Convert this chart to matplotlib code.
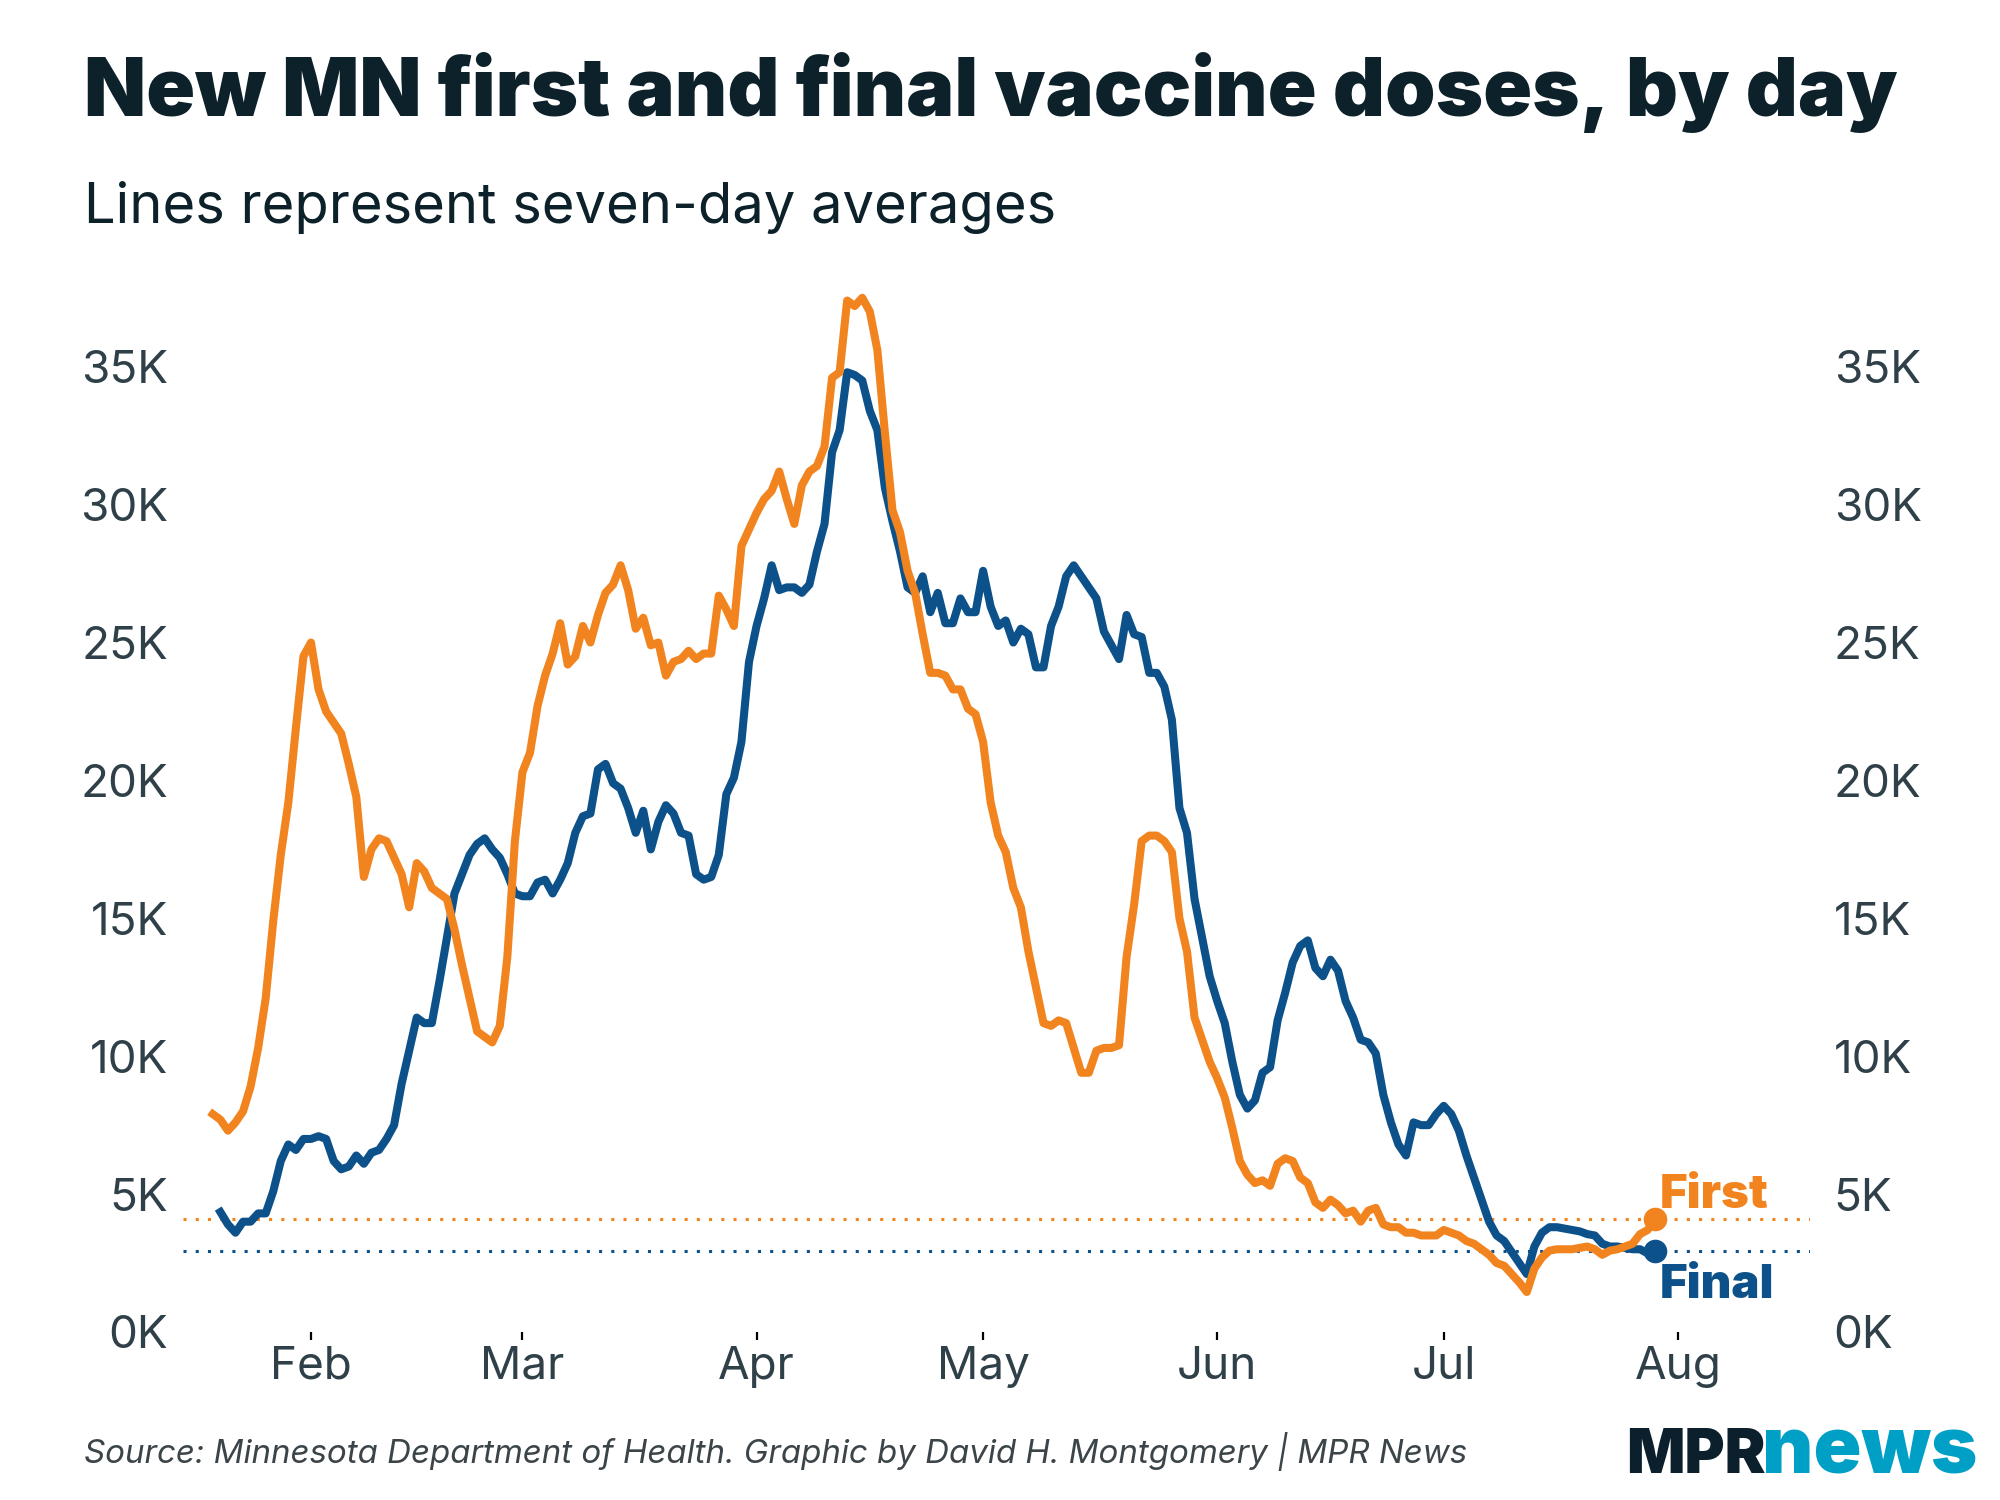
"""
plot.py

Seven-day averages of new first and final vaccine doses in Minnesota,
redrawn in the style of the MPR News graphic.
"""
import pandas as pd
import matplotlib
matplotlib.use("Agg")
import matplotlib.pyplot as plt
import matplotlib.dates as mdates
from matplotlib.ticker import FuncFormatter

FIRST_START = "2021-01-19"
FINAL_START = "2021-01-20"

# seven-day averages, thousands of doses per day
FIRST_JAN = [7.9, 7.7, 7.3, 7.6, 8.0, 8.9, 10.3, 12.1, 14.9, 17.3, 19.2, 21.9, 24.5]
FIRST_FEB = [25.0, 23.3, 22.5, 22.1, 21.7, 20.6, 19.4, 16.5, 17.5, 17.9, 17.8, 17.2, 16.6, 15.4,
             17.0, 16.7, 16.1, 15.9, 15.7, 14.6, 13.3, 12.1, 10.9, 10.7, 10.5, 11.1, 13.6, 17.8]
FIRST_MAR = [20.3, 21.0, 22.7, 23.8, 24.6, 25.7, 24.2, 24.5, 25.6, 25.0, 26.0, 26.8, 27.1, 27.8,
             26.9, 25.5, 25.9, 24.9, 25.0, 23.8, 24.3, 24.4, 24.7, 24.4, 24.6, 24.6, 26.7, 26.2,
             25.6, 28.5, 29.1]
FIRST_APR = [29.7, 30.2, 30.5, 31.2, 30.2, 29.3, 30.7, 31.2, 31.4, 32.1, 34.6, 34.8, 37.4, 37.2,
             37.5, 37.0, 35.6, 32.6, 29.8, 29.0, 27.6, 26.8, 25.3, 23.9, 23.9, 23.8, 23.3, 23.3,
             22.6, 22.4]
FIRST_MAY = [21.4, 19.2, 18.0, 17.4, 16.1, 15.4, 13.8, 12.5, 11.2, 11.1, 11.3, 11.2, 10.3, 9.4,
             9.4, 10.2, 10.3, 10.3, 10.4, 13.6, 15.5, 17.8, 18.0, 18.0, 17.8, 17.4, 15.0, 13.8,
             11.4, 10.6, 9.8]
FIRST_JUN = [9.2, 8.5, 7.4, 6.2, 5.7, 5.4, 5.5, 5.3, 6.1, 6.3, 6.2, 5.6, 5.4, 4.7, 4.5, 4.8,
             4.6, 4.3, 4.4, 4.0, 4.4, 4.5, 3.9, 3.8, 3.8, 3.6, 3.6, 3.5, 3.5, 3.5]
FIRST_JUL = [3.7, 3.6, 3.5, 3.3, 3.2, 3.0, 2.8, 2.5, 2.4, 2.1, 1.8, 1.45, 2.3, 2.7, 2.95, 3.0,
             3.0, 3.0, 3.05, 3.1, 3.0, 2.8, 2.95, 3.0, 3.1, 3.2, 3.55, 3.7, 4.1]

FINAL_JAN = [4.35, 3.9, 3.6, 4.0, 4.0, 4.3, 4.3, 5.1, 6.2, 6.8, 6.6, 7.0]
FINAL_FEB = [7.0, 7.1, 7.0, 6.2, 5.9, 6.0, 6.4, 6.1, 6.5, 6.6, 7.0, 7.5, 9.0, 10.2, 11.4, 11.2,
             11.2, 12.7, 14.3, 15.9, 16.6, 17.3, 17.7, 17.9, 17.5, 17.2, 16.6, 15.9]
FINAL_MAR = [15.8, 15.8, 16.3, 16.4, 15.9, 16.4, 17.0, 18.1, 18.7, 18.8, 20.4, 20.6, 19.9, 19.7,
             19.0, 18.1, 18.9, 17.5, 18.5, 19.1, 18.8, 18.1, 18.0, 16.6, 16.4, 16.5, 17.3, 19.5,
             20.1, 21.4, 24.3]
FINAL_APR = [25.6, 26.6, 27.8, 26.9, 27.0, 27.0, 26.8, 27.1, 28.3, 29.3, 31.9, 32.7, 34.8, 34.7,
             34.5, 33.4, 32.7, 30.6, 29.4, 28.3, 27.0, 26.8, 27.4, 26.1, 26.8, 25.7, 25.7, 26.6,
             26.1, 26.1]
FINAL_MAY = [27.6, 26.3, 25.6, 25.8, 25.0, 25.5, 25.3, 24.1, 24.1, 25.6, 26.3, 27.4, 27.8, 27.4,
             27.0, 26.6, 25.4, 24.9, 24.4, 26.0, 25.3, 25.2, 23.9, 23.9, 23.4, 22.2, 19.0, 18.1,
             15.7, 14.3, 12.9]
FINAL_JUN = [12.0, 11.2, 9.8, 8.6, 8.1, 8.4, 9.4, 9.6, 11.3, 12.3, 13.4, 14.0, 14.2, 13.2, 12.9,
             13.5, 13.1, 12.0, 11.4, 10.6, 10.5, 10.1, 8.6, 7.6, 6.8, 6.4, 7.6, 7.5, 7.5, 7.9]
FINAL_JUL = [8.2, 7.9, 7.3, 6.4, 5.6, 4.8, 4.0, 3.5, 3.3, 2.9, 2.5, 2.1, 3.1, 3.6, 3.8, 3.8,
             3.75, 3.7, 3.65, 3.55, 3.5, 3.2, 3.1, 3.1, 3.05, 3.0, 3.0, 2.85, 2.93]

FIRST_DOSES = FIRST_JAN + FIRST_FEB + FIRST_MAR + FIRST_APR + FIRST_MAY + FIRST_JUN + FIRST_JUL
FINAL_DOSES = FINAL_JAN + FINAL_FEB + FINAL_MAR + FINAL_APR + FINAL_MAY + FINAL_JUN + FINAL_JUL

MONTH_TICKS = ["2021-02-01", "2021-03-01", "2021-04-01", "2021-05-01",
               "2021-06-01", "2021-07-01", "2021-08-01"]
Y_TICKS = [0, 5, 10, 15, 20, 25, 30, 35]

TITLE = "New MN first and final vaccine doses, by day"
SUBTITLE = "Lines represent seven-day averages"
SOURCE = "Source: Minnesota Department of Health. Graphic by David H. Montgomery | MPR News"

ORANGE = "#f2841f"
BLUE = "#0c5189"
INK = "#0c2129"
GREY = "#2f4049"
TEAL = "#00a0c6"
FONT = "Inter"


def style_axes(ax):
    for side in ax.spines.values():
        side.set_visible(False)
    ax.set_ylim(0, 38)
    feb1 = mdates.date2num(pd.Timestamp("2021-02-01"))
    ax.set_xlim(feb1 - 16.95, feb1 + 198.5)

    ax.set_xticks(pd.to_datetime(MONTH_TICKS))
    ax.xaxis.set_major_formatter(mdates.DateFormatter("%b"))
    ax.tick_params(axis="x", length=2.9, width=0.8, color="black", pad=2,
                   labelsize=16.5, labelcolor=GREY)

    ax.set_yticks(Y_TICKS)
    ax.yaxis.set_major_formatter(FuncFormatter(lambda v, _: f"{v:.0f}K"))
    ax.tick_params(axis="y", length=0, pad=5.5, labelsize=16.5, labelcolor=GREY)
    for lbl in ax.get_xticklabels() + ax.get_yticklabels():
        lbl.set_family(FONT)


def main():
    fig = plt.figure(figsize=(10, 7.5), dpi=200)
    ax = fig.add_axes([183 / 2000, 168 / 1500, 1627 / 2000, 1048 / 1500])

    first_dates = pd.date_range(FIRST_START, periods=len(FIRST_DOSES), freq="D")
    final_dates = pd.date_range(FINAL_START, periods=len(FINAL_DOSES), freq="D")

    # dotted guides at the latest values
    ax.axhline(FIRST_DOSES[-1], color=ORANGE, lw=1.1, ls=(0, (1, 3)), zorder=1)
    ax.axhline(FINAL_DOSES[-1], color=BLUE, lw=1.1, ls=(0, (1, 3)), zorder=1)

    ax.plot(final_dates, FINAL_DOSES, color=BLUE, lw=2.9, zorder=3, clip_on=False)
    ax.plot(first_dates, FIRST_DOSES, color=ORANGE, lw=2.9, zorder=4, clip_on=False)
    ax.plot(first_dates[-1], FIRST_DOSES[-1], "o", ms=7.5, color=ORANGE, zorder=5)
    ax.plot(final_dates[-1], FINAL_DOSES[-1], "o", ms=7.5, color=BLUE, zorder=6)

    ax.annotate("First", xy=(first_dates[-1], FIRST_DOSES[-1]), xytext=(1.5, 4),
                textcoords="offset points", ha="left", va="baseline",
                color=ORANGE, fontsize=17, fontweight="black", family=FONT)
    ax.annotate("Final", xy=(final_dates[-1], FINAL_DOSES[-1]), xytext=(1.5, -4.5),
                textcoords="offset points", ha="left", va="top",
                color=BLUE, fontsize=17, fontweight="black", family=FONT)

    style_axes(ax)

    # right-hand copy of the value axis
    ax2 = ax.twinx()
    for side in ax2.spines.values():
        side.set_visible(False)
    ax2.set_ylim(ax.get_ylim())
    ax2.set_yticks(Y_TICKS)
    ax2.yaxis.set_major_formatter(FuncFormatter(lambda v, _: f"{v:.0f}K"))
    ax2.tick_params(axis="y", length=0, pad=8.5, labelsize=16.5, labelcolor=GREY)
    for lbl in ax2.get_yticklabels():
        lbl.set_family(FONT)

    fig.text(84 / 2000, 1 - 116 / 1500, TITLE, ha="left", va="baseline",
             fontsize=29.1, fontweight="black", color=INK, family=FONT)
    fig.text(84 / 2000, 1 - 223 / 1500, SUBTITLE, ha="left", va="baseline",
             fontsize=20.2, color=INK, family=FONT)
    fig.text(84 / 2000, 1 - 1463 / 1500, SOURCE, ha="left", va="baseline",
             fontsize=11.9, style="italic", color="#3b4449", family=FONT)

    # MPR News wordmark
    fig.text(1626 / 2000, 1 - 1473 / 1500, "MPR", ha="left", va="baseline",
             fontsize=22, fontweight="black", color="#0b1f2d", family=FONT)
    fig.text(1977 / 2000, 1 - 1473 / 1500, "news", ha="right", va="baseline",
             fontsize=28.5, fontweight="black", color=TEAL, family=FONT)

    fig.savefig("out.png", dpi=200)
    plt.close(fig)


if __name__ == "__main__":
    main()
